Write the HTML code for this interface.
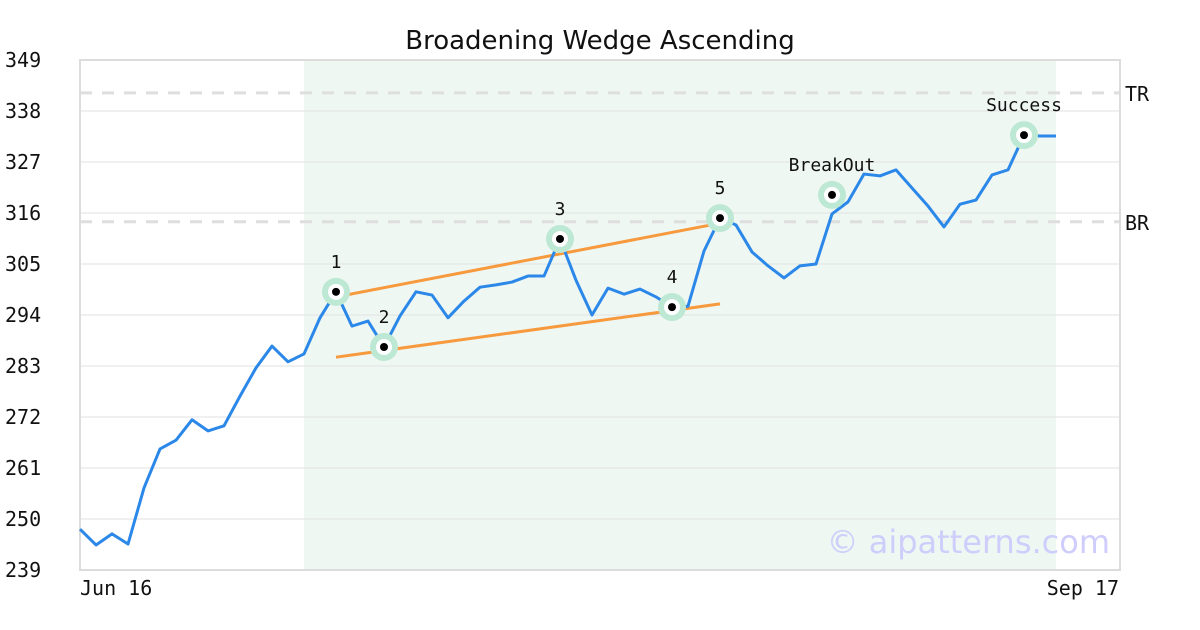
<!DOCTYPE html>
<html><head><meta charset="utf-8"><style>
body{margin:0;background:#fff;}
svg{display:block;font-family:"DejaVu Sans Mono","Liberation Mono",monospace;}
</style></head><body>
<svg id="chart" width="1200" height="630"></svg>
<script>
const values=[247.8,244.4,246.8,244.6,256.7,265.1,267.0,271.4,269.0,270.1,276.5,282.6,287.3,283.9,285.6,293.4,299.0,291.6,292.7,287.1,293.8,299.0,298.3,293.4,297.0,300.0,300.5,301.1,302.4,302.4,310.4,301.5,294.0,299.8,298.5,299.6,297.9,295.7,295.9,307.8,314.9,313.4,307.6,304.6,302.0,304.6,305.0,315.8,318.4,324.4,324.0,325.3,321.4,317.5,313.0,317.9,318.8,324.2,325.3,332.8,332.6,332.6];
const yTicks=[239,250,261,272,283,294,305,316,327,338,349];
const markerIdx=[16,19,30,37,40,47,59];
const markerVal=[299.0,287.1,310.4,295.7,314.9,319.9,332.8];
const markerLabels=["1","2","3","4","5","BreakOut","Success"];
const upperLine=[[16,297.9],[40,313.8]];
const lowerLine=[[16,284.9],[40,296.4]];
const refVals=[341.9,314.1];
const refLabels=["TR","BR"];
const xLabels=["Jun 16","Sep 17"];
const shadeRange=[14,61];

const NS="http://www.w3.org/2000/svg";
const svg=document.getElementById('chart');
const L=80,R=1120,T=60,B=570,ymin=239,ymax=349;
const X=i=>L+i*16;
const Y=v=>B-(v-ymin)/(ymax-ymin)*(B-T);
function mk(tag,a,parent){const e=document.createElementNS(NS,tag);for(const k in a)e.setAttribute(k,a[k]);(parent||svg).appendChild(e);return e;}

let e=mk('rect',{x:X(shadeRange[0]),y:T,width:X(shadeRange[1])-X(shadeRange[0]),height:B-T,fill:'#eff7f3'});


yTicks.forEach(v=>{
 let g=mk('line',{x1:L,x2:R,y1:Y(v),y2:Y(v),stroke:'#e2e2e2','stroke-width':1});
 
 
 let t=mk('text',{x:5,y:Y(v)+7,'font-size':20,fill:'#111'});t.textContent=v;
 
 
});
refVals.forEach((v,i)=>{
 let l=mk('line',{x1:L,x2:R,y1:Y(v),y2:Y(v),stroke:'#dedede','stroke-width':3,'stroke-dasharray':'12,10'});
 
 
 let t=mk('text',{x:1125,y:Y(v)+8,'font-size':20,fill:'#111'});t.textContent=refLabels[i];
 
 
});
e=mk('rect',{x:L,y:T,width:R-L,height:B-T,fill:'none',stroke:'#dcdcdc','stroke-width':2});


[upperLine,lowerLine].forEach((ln,i)=>{
 let l=mk('line',{x1:X(ln[0][0]),y1:Y(ln[0][1]),x2:X(ln[1][0]),y2:Y(ln[1][1]),stroke:'#f79a3e','stroke-width':3});
 
 
});
e=mk('polyline',{points:values.map((v,i)=>X(i)+','+Y(v)).join(' '),fill:'none',stroke:'#2b88e8','stroke-width':3,'stroke-linejoin':'round'});


markerIdx.forEach((idx,k)=>{
 const cx=X(idx),cy=Y(markerVal[k]);
 let g=mk('g',{});
 
 
 mk('circle',{cx,cy,r:14,fill:'#bde8d3'},g);
 mk('circle',{cx,cy,r:8,fill:'#fff'},g);
 mk('circle',{cx,cy,r:4,fill:'#000'},g);
 let t=mk('text',{x:cx,y:cy-24,'font-size':18,'text-anchor':'middle',fill:'#111'},g);t.textContent=markerLabels[k];
});
let t=mk('text',{x:80,y:595,'font-size':20,fill:'#111'});t.textContent=xLabels[0];


t=mk('text',{x:1119,y:595,'font-size':20,fill:'#111','text-anchor':'end'});t.textContent=xLabels[1];


t=mk('text',{x:600,y:49,'font-size':26,fill:'#111','text-anchor':'middle','font-family':'"DejaVu Sans","Liberation Sans",sans-serif'});t.textContent='Broadening Wedge Ascending';


t=mk('text',{x:1110,y:553,'font-size':32,fill:'#cfcdfb','text-anchor':'end','font-family':'"DejaVu Sans","Liberation Sans",sans-serif'});t.textContent='© aipatterns.com';


</script>
</body></html>
